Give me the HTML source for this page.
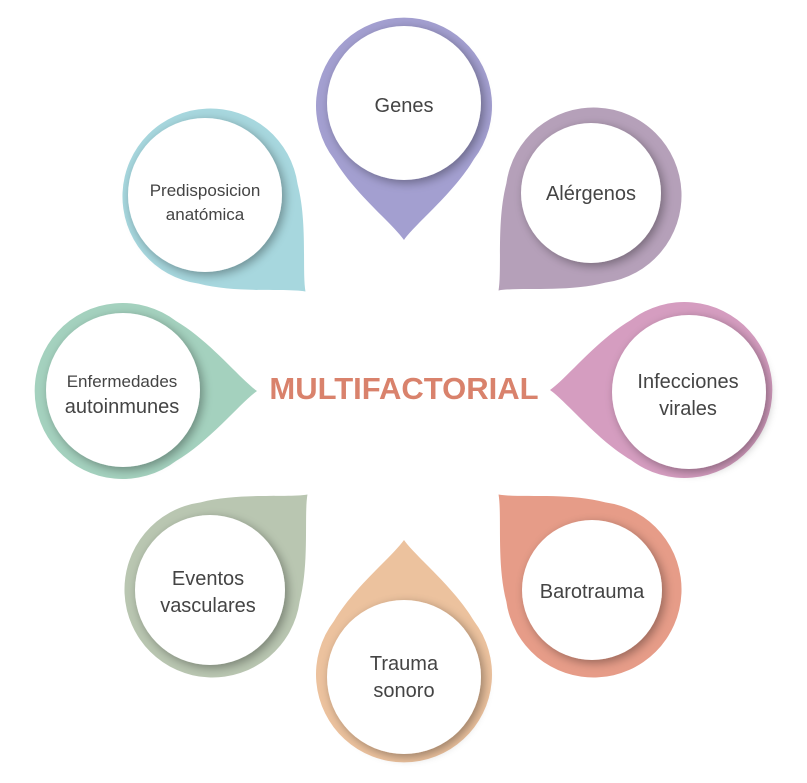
<!DOCTYPE html>
<html><head><meta charset="utf-8"><style>
body{margin:0;background:#fff;}
svg text{font-family:"Liberation Sans","DejaVu Sans",sans-serif;fill:#444;text-anchor:middle;}
</style></head><body>
<svg width="807" height="778" viewBox="0 0 807 778" xmlns="http://www.w3.org/2000/svg">
<defs>
<filter id="sh" x="-30%" y="-30%" width="160%" height="160%">
<feGaussianBlur in="SourceAlpha" stdDeviation="5"/>
<feOffset dx="3" dy="3" result="b"/>
<feComponentTransfer><feFuncA type="linear" slope="0.35"/></feComponentTransfer>
<feMerge><feMergeNode/><feMergeNode in="SourceGraphic"/></feMerge>
</filter>
<g id="drop">
<path d="M0,135 C12,118 50,88 70,54 A88,88 0 1 0 -70,54 C-50,88 -12,118 0,135 Z"/>
</g>
</defs>
<g transform="translate(404,105) rotate(0)" fill="#a39fd0"><use href="#drop"/></g>
<g transform="translate(594,195) rotate(45)" fill="#b5a0b9"><use href="#drop"/></g>
<g transform="translate(685,390) rotate(90)" fill="#d59dc0"><use href="#drop"/></g>
<g transform="translate(594,590) rotate(135)" fill="#e69c88"><use href="#drop"/></g>
<g transform="translate(404,675) rotate(180)" fill="#ecc29e"><use href="#drop"/></g>
<g transform="translate(212,590) rotate(225)" fill="#b9c6b1"><use href="#drop"/></g>
<g transform="translate(122,391) rotate(270)" fill="#a4d1be"><use href="#drop"/></g>
<g transform="translate(210,196) rotate(315)" fill="#a7d7de"><use href="#drop"/></g>
<g fill="#fff" filter="url(#sh)">
<circle cx="404" cy="103" r="77"/>
<circle cx="591" cy="193" r="70"/>
<circle cx="689" cy="392" r="77"/>
<circle cx="592" cy="590" r="70"/>
<circle cx="404" cy="677" r="77"/>
<circle cx="210" cy="590" r="75"/>
<circle cx="123" cy="390" r="77"/>
<circle cx="205" cy="195" r="77"/>
</g>
<text x="404" y="112" font-size="20">Genes</text>
<text x="591" y="200" font-size="20">Alérgenos</text>
<text x="688" y="388" font-size="20">Infecciones</text>
<text x="688" y="415" font-size="20">virales</text>
<text x="592" y="598" font-size="20">Barotrauma</text>
<text x="404" y="670" font-size="20">Trauma</text>
<text x="404" y="697" font-size="20">sonoro</text>
<text x="208" y="585" font-size="20">Eventos</text>
<text x="208" y="612" font-size="20">vasculares</text>
<text x="122" y="387" font-size="17">Enfermedades</text>
<text x="122" y="413" font-size="20">autoinmunes</text>
<text x="205" y="196" font-size="17">Predisposicion</text>
<text x="205" y="220" font-size="17">anatómica</text>
<text x="404" y="399" font-size="31" font-weight="bold" style="fill:#d9826c">MULTIFACTORIAL</text>
</svg>
</body></html>
